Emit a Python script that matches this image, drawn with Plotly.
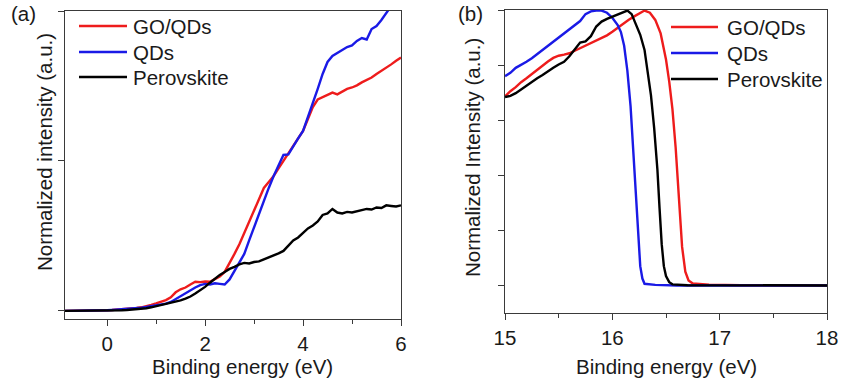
import plotly.graph_objects as go

# ---------------- Panel (a) data ----------------
energy_a = [-0.9, -0.8, -0.7, -0.6, -0.5, -0.4, -0.3, -0.2, -0.1, 0.0,
            0.1, 0.2, 0.3, 0.4, 0.5, 0.6, 0.7, 0.8, 0.9, 1.0,
            1.1, 1.2, 1.3, 1.4, 1.5, 1.6, 1.7, 1.8, 1.9, 2.0,
            2.1, 2.2, 2.3, 2.4, 2.5, 2.6, 2.7, 2.8, 2.9, 3.0,
            3.1, 3.2, 3.3, 3.4, 3.5, 3.6, 3.7, 3.8, 3.9, 4.0,
            4.1, 4.2, 4.3, 4.4, 4.5, 4.6, 4.7, 4.8, 4.9, 5.0,
            5.1, 5.2, 5.3, 5.4, 5.5, 5.6, 5.7, 5.8, 5.9, 6.0]
go_qds_a = [0, 0, 0, 0, 0, 0, 0, 0, 0.001, 0.002,
            0.003, 0.004, 0.005, 0.006, 0.008, 0.010, 0.012, 0.015, 0.020, 0.025,
            0.030, 0.036, 0.045, 0.062, 0.072, 0.078, 0.088, 0.097, 0.096, 0.098,
            0.097, 0.105, 0.115, 0.130, 0.158, 0.190, 0.222, 0.260, 0.295, 0.336,
            0.375, 0.410, 0.430, 0.450, 0.475, 0.500, 0.525, 0.550, 0.572, 0.600,
            0.640, 0.680, 0.705, 0.712, 0.720, 0.728, 0.722, 0.730, 0.740, 0.745,
            0.752, 0.762, 0.770, 0.778, 0.790, 0.800, 0.812, 0.822, 0.834, 0.845]
qds_a = [0, 0, 0, 0, 0, 0, 0, 0, 0.001, 0.002,
         0.003, 0.004, 0.005, 0.006, 0.007, 0.009, 0.011, 0.013, 0.016, 0.019,
         0.021, 0.024, 0.030, 0.040, 0.050, 0.058, 0.068, 0.078, 0.086, 0.090,
         0.088, 0.092, 0.090, 0.088, 0.105, 0.135, 0.160, 0.190, 0.235, 0.280,
         0.325, 0.370, 0.410, 0.450, 0.485, 0.520, 0.522, 0.550, 0.575, 0.600,
         0.645, 0.690, 0.740, 0.790, 0.830, 0.850, 0.860, 0.870, 0.880, 0.885,
         0.900, 0.910, 0.905, 0.940, 0.950, 0.970, 0.995, 1.020, 1.040, 1.060]
perov_a = [0, 0, 0, 0, 0, 0, 0, 0, 0, 0.001,
           0.001, 0.002, 0.002, 0.003, 0.004, 0.005, 0.007, 0.009, 0.012, 0.016,
           0.019, 0.022, 0.026, 0.030, 0.035, 0.041, 0.048, 0.058, 0.068, 0.080,
           0.094, 0.108, 0.120, 0.130, 0.140, 0.147, 0.155, 0.160, 0.158, 0.163,
           0.165, 0.172, 0.178, 0.186, 0.192, 0.200, 0.218, 0.235, 0.245, 0.260,
           0.275, 0.285, 0.298, 0.320, 0.325, 0.340, 0.328, 0.325, 0.330, 0.328,
           0.332, 0.335, 0.340, 0.338, 0.345, 0.343, 0.352, 0.350, 0.348, 0.352]

# ---------------- Panel (b) data ----------------
go_qds_b_x = [15.0, 15.05, 15.1, 15.15, 15.2, 15.25, 15.3, 15.35, 15.4, 15.45,
              15.5, 15.55, 15.6, 15.65, 15.7, 15.75, 15.8, 15.85, 15.9, 15.95,
              16.0, 16.05, 16.1, 16.15, 16.2, 16.25, 16.3, 16.35, 16.4, 16.45,
              16.5, 16.53, 16.56, 16.59, 16.62, 16.65, 16.68, 16.71, 16.75, 16.9,
              17.2, 18.0]
go_qds_b_y = [0.686, 0.705, 0.720, 0.738, 0.752, 0.768, 0.783, 0.800, 0.813, 0.826,
              0.834, 0.838, 0.843, 0.852, 0.861, 0.872, 0.879, 0.888, 0.897, 0.908,
              0.921, 0.936, 0.952, 0.964, 0.976, 0.988, 0.998, 0.990, 0.964, 0.915,
              0.820, 0.740, 0.640, 0.500, 0.320, 0.140, 0.050, 0.018, 0.007, 0.003,
              0.001, 0.0]
qds_b_x = [15.0, 15.05, 15.1, 15.15, 15.2, 15.25, 15.3, 15.35, 15.4, 15.45,
           15.5, 15.55, 15.6, 15.65, 15.7, 15.75, 15.8, 15.85, 15.9, 15.95,
           16.0, 16.05, 16.08, 16.11, 16.14, 16.17, 16.2, 16.22, 16.24, 16.26,
           16.28, 16.3, 16.4, 16.6, 18.0]
qds_b_y = [0.760, 0.772, 0.790, 0.800, 0.812, 0.825, 0.840, 0.855, 0.870, 0.888,
           0.903, 0.918, 0.930, 0.948, 0.960, 0.985, 0.995, 0.998, 0.998, 0.990,
           0.972, 0.945, 0.920, 0.870, 0.780, 0.650, 0.450, 0.300, 0.160, 0.070,
           0.025, 0.006, 0.002, 0.0, 0.0]
perov_b_x = [15.0, 15.05, 15.1, 15.15, 15.2, 15.25, 15.3, 15.35, 15.4, 15.45,
             15.5, 15.55, 15.6, 15.65, 15.7, 15.75, 15.8, 15.85, 15.9, 15.95,
             16.0, 16.05, 16.1, 16.14, 16.18, 16.22, 16.26, 16.3, 16.33, 16.36,
             16.39, 16.42, 16.44, 16.46, 16.48, 16.5, 16.53, 16.56, 16.7, 18.0]
perov_b_y = [0.684, 0.688, 0.698, 0.712, 0.724, 0.738, 0.752, 0.764, 0.778, 0.790,
             0.802, 0.812, 0.832, 0.857, 0.882, 0.886, 0.905, 0.940, 0.958, 0.968,
             0.976, 0.982, 0.990, 0.998, 0.985, 0.950, 0.910, 0.855, 0.780, 0.690,
             0.570, 0.420, 0.280, 0.150, 0.070, 0.034, 0.012, 0.004, 0.001, 0.0]

series_names = ["GO/QDs", "QDs", "Perovskite"]
series_colors = ["#ee1c1c", "#1a1ae6", "#000000"]

W, H = 841, 383
FONT = "Liberation Sans, Arial, sans-serif"
FS = 20.5
TXT = "#1a1a1a"
AX = "#3a3a3a"


def px(x):
    return x / W


def py(y):
    return 1 - y / H


fig = go.Figure()

for name, color, yv in zip(series_names, series_colors, [go_qds_a, qds_a, perov_a]):
    fig.add_trace(go.Scatter(x=energy_a, y=yv, mode="lines", name=name,
                             line=dict(color=color, width=2.4),
                             xaxis="x", yaxis="y", showlegend=False))

for name, color, xv, yv in zip(series_names, series_colors,
                               [go_qds_b_x, qds_b_x, perov_b_x],
                               [go_qds_b_y, qds_b_y, perov_b_y]):
    fig.add_trace(go.Scatter(x=xv, y=yv, mode="lines", name=name,
                             line=dict(color=color, width=2.4),
                             xaxis="x2", yaxis="y2", showlegend=False))

axis_common = dict(showline=True, linecolor=AX, linewidth=1.3, mirror=True,
                   ticks="outside", tickcolor=AX, tickwidth=1.3, ticklen=6,
                   showgrid=False, zeroline=False, automargin=False,
                   tickfont=dict(family=FONT, size=FS, color=TXT))

fig.update_layout(
    width=W, height=H,
    margin=dict(l=0, r=0, t=0, b=0),
    paper_bgcolor="white", plot_bgcolor="white",
    showlegend=False,
    xaxis=dict(domain=[px(65), px(401)], range=[-0.86, 6.0], anchor="y",
               tickvals=[0, 2, 4, 6],
               minor=dict(tickvals=[1, 3, 5], ticks="outside", ticklen=3.5,
                          tickcolor=AX, tickwidth=1.3),
               **axis_common),
    yaxis=dict(domain=[py(319), py(11)], range=[-0.027, 1.0], anchor="x",
               tickvals=[0, 0.5, 1.0], showticklabels=False, **axis_common),
    xaxis2=dict(domain=[px(505), px(827)], range=[15, 18], anchor="y2",
                tickvals=[15, 16, 17, 18],
                minor=dict(tickvals=[15.5, 16.5, 17.5], ticks="outside", ticklen=3.5,
                           tickcolor=AX, tickwidth=1.3),
                **axis_common),
    yaxis2=dict(domain=[py(313), py(10)], range=[-0.1, 1.0], anchor="x2",
                tickvals=[0, 0.2, 0.4, 0.6, 0.8, 1.0], showticklabels=False,
                **axis_common),
)

annotations = []
shapes = []


def text(x, y, s, angle=0, xanchor="center"):
    annotations.append(dict(x=px(x), y=py(y), xref="paper", yref="paper", text=s,
                            showarrow=False, textangle=angle, xanchor=xanchor,
                            yanchor="middle",
                            font=dict(family=FONT, size=FS, color=TXT)))


# axis titles
text(242, 366, "Binding energy (eV)")
text(666, 366, "Binding energy (eV)")
text(44, 152, "Normalized intensity (a.u.)", angle=-90)
text(472, 158, "Normalized Intensity (a.u.)", angle=-90)
# panel labels
text(23, 14, "(a)")
text(470, 14, "(b)")

# legends (manual)
legend_a = dict(x0=79, x1=127, tx=131, rows=[26, 52, 77])
legend_b = dict(x0=671, x1=718, tx=725, rows=[27, 53, 79])
for lg in (legend_a, legend_b):
    for name, color, ry in zip(series_names, series_colors, lg["rows"]):
        shapes.append(dict(type="line", xref="paper", yref="paper",
                           x0=px(lg["x0"]), x1=px(lg["x1"]), y0=py(ry), y1=py(ry),
                           line=dict(color=color, width=2.6)))
        text(lg["tx"], ry, name, xanchor="left")

fig.update_layout(annotations=annotations, shapes=shapes)

fig.write_html("out.html",
               config={"displayModeBar": False},
               post_script="document.body.style.margin='0px';"
                           "document.body.style.padding='0px';"
                           "document.body.style.overflow='hidden';")
